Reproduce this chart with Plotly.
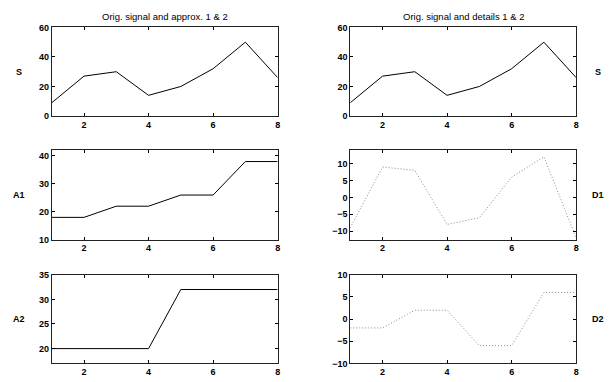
import plotly.graph_objects as go

x = [1, 2, 3, 4, 5, 6, 7, 8]
S = [9, 27, 30, 14, 20, 32, 50, 26]
A1 = [18, 18, 22, 22, 26, 26, 38, 38]
A2 = [20, 20, 20, 20, 32, 32, 32, 32]
D1 = [-9, 9, 8, -8, -6, 6, 12, -12]
D2 = [-2, -2, 2, 2, -6, -6, 6, 6]

W, H = 614, 382
fig = go.Figure()

def px_x(a, b):
    return [a / W, b / W]

def px_y(top, bot):
    return [1 - bot / H, 1 - top / H]

cols = [px_x(52, 279), px_x(352, 579)]
rows = [px_y(23, 114), px_y(149, 241), px_y(277, 368)]

panels = [
    (0, 0, S, [0, 60], [0, 20, 40, 60], "S", False),
    (1, 0, A1, [10, 42.1], [10, 20, 30, 40], "A1", False),
    (2, 0, A2, [17, 35], [20, 25, 30, 35], "A2", False),
    (0, 1, S, [0, 60], [0, 20, 40, 60], "S", False),
    (1, 1, D1, [-12.5, 14], [-10, -5, 0, 5, 10], "D1", True),
    (2, 1, D2, [-10, 10], [-10, -5, 0, 5, 10], "D2", True),
]

tickfont = dict(family="Liberation Sans", size=9, color="black", weight="bold")
layout = {}
for i, (r, c, data, yr, yt, lab, dotted) in enumerate(panels):
    n = i + 1
    xa = "x" if n == 1 else f"x{n}"
    ya = "y" if n == 1 else f"y{n}"
    line = dict(color="#888" if dotted else "black", width=1,
                dash="1px,2px" if dotted else "solid")
    fig.add_trace(go.Scatter(x=x, y=data, mode="lines", line=line,
                             xaxis=xa, yaxis=ya, showlegend=False))
    common = dict(showgrid=False, zeroline=False, showline=True, linecolor="#222",
                  linewidth=1, mirror="ticks", ticks="inside", ticklen=3,
                  tickcolor="black", tickfont=tickfont)
    layout[f"xaxis{'' if n == 1 else n}"] = dict(
        domain=cols[c], range=[1, 8], tickvals=[2, 4, 6, 8], anchor=ya, **common)
    layout[f"yaxis{'' if n == 1 else n}"] = dict(
        domain=rows[r], range=yr, tickvals=yt, anchor=xa, **common)
    yc = (rows[r][0] + rows[r][1]) / 2
    xl = 19 / W if c == 0 else 601 / W
    fig.add_annotation(x=xl, y=yc, xref="paper", yref="paper", text=lab,
                       showarrow=False, xanchor="center", yanchor="middle",
                       font=dict(family="Liberation Sans", size=9,
                                 color="black", weight="bold"))

for cx, txt in [(166, "Orig. signal and approx. 1 & 2"),
                (466, "Orig. signal and details 1 & 2")]:
    fig.add_annotation(x=cx / W, y=1 - 12 / H, xref="paper", yref="paper",
                       text=txt, showarrow=False, xanchor="center", yanchor="middle",
                       font=dict(family="Liberation Sans", size=9.5, color="black"))

fig.update_layout(width=W, height=H, margin=dict(l=0, r=0, t=0, b=0),
                  plot_bgcolor="white", paper_bgcolor="white", **layout)
fig.write_html("out.html", config={"displayModeBar": False},
               post_script="document.body.style.margin='0';document.body.style.overflow='hidden';")
